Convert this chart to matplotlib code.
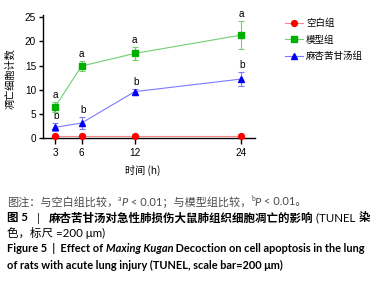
import matplotlib
matplotlib.use('Agg')
import matplotlib.pyplot as plt

# data
times = [3, 6, 12, 24]
blank_mean = [0.5, 0.5, 0.5, 0.5]
blank_err = [0.35, 0.35, 0.35, 0.35]
model_mean = [6.4, 14.9, 17.5, 21.3]
model_err = [1.0, 1.0, 1.35, 2.9]
drug_mean = [2.2, 3.1, 9.6, 12.2]
drug_err = [0.85, 1.15, 0.6, 1.4]
model_marks = ['a', 'a', 'a', 'a']
drug_marks = ['b', 'b', 'b', 'b']
group_names = ['空白组', '模型组', '麻杏苦甘汤组']
y_ticks = [0, 5, 10, 15, 20, 25]

CJK = ['Noto Sans CJK SC', 'DejaVu Sans']
LAT = ['Lato', 'Noto Sans CJK SC', 'DejaVu Sans']
ARIAL = ['Liberation Sans', 'Noto Sans CJK SC', 'DejaVu Sans']

plt.rcParams['font.family'] = ARIAL

fig = plt.figure(figsize=(3.84, 2.82), dpi=100)
W, H = 384, 282
ax = fig.add_axes([43 / W, 1 - 138 / H, (255 - 43) / W, (138 - 15.3) / H])

series = [
    (blank_mean, blank_err, 'o', '#ff0000', '#f08a8a', 4.2),
    (model_mean, model_err, 's', '#00b000', '#70d070', 4.2),
    (drug_mean, drug_err, '^', '#0000f0', '#7a7aff', 4.2),
]
handles = []
for i, (m, e, mk, mc, lc, ms) in enumerate(series):
    c = ax.errorbar(times, m, yerr=e, fmt='-', marker=mk, color=lc, mfc=mc, mec=mc,
                    ms=ms, lw=0.8, elinewidth=0.8, capsize=2.2, capthick=0.8,
                    zorder=3 + (2 - i), clip_on=False)
    handles.append(c[0])

for x, m, e, t in zip(times, model_mean, model_err, model_marks):
    ax.annotate(t, (x, m + e), xytext=(0, 1.5), textcoords='offset points',
                ha='center', va='bottom', fontsize=7.2)
for x, m, e, t in zip(times, drug_mean, drug_err, drug_marks):
    ax.annotate(t, (x, m + e), xytext=(0.8, 1.5), textcoords='offset points',
                ha='center', va='bottom', fontsize=7.2)

ax.set_xlim(1.645, 25.58)
ax.set_ylim(0, 25.4)
ax.set_xticks(times)
ax.set_yticks(y_ticks)
for s in ['top', 'right']:
    ax.spines[s].set_visible(False)
for s in ['left', 'bottom']:
    ax.spines[s].set_linewidth(1.0)
ax.tick_params(axis='both', labelsize=7.2, width=1.0, length=3, pad=2)
ax.tick_params(axis='x', length=4, pad=3)
ax.patch.set_alpha(0)

ax.set_xlabel('时间 (h)', fontsize=7.3, family=CJK)
ax.xaxis.set_label_coords((143 - 43) / (255 - 43), -(165 - 138) / (138 - 15.3))
ax.set_ylabel('凋亡细胞计数', fontsize=7.3, family=CJK)
ax.yaxis.set_label_coords(-(43 - 15) / (255 - 43), (138 - 79) / (138 - 15.3))

fig.legend(handles, group_names, loc='upper left', bbox_to_anchor=(285 / W, 1 - 19 / H),
           frameon=False, prop={'family': CJK, 'size': 6.8}, handlelength=1.9,
           handletextpad=0.3, labelspacing=0.72, borderpad=0, borderaxespad=0)

renderer = fig.canvas.get_renderer()


def draw_line(parts, x0, y, size, target=None):
    # parts: (text, style dict, scale, rise in px)
    def place(sz):
        objs, x = [], x0
        for txt, st, sc, rise in parts:
            t = fig.text(x / W, 1 - (y - rise * sz / 7) / H, txt, fontsize=sz * sc,
                         va='center_baseline', ha='left', **st)
            objs.append(t)
            x += t.get_window_extent(renderer).width
        return objs, x
    objs, xend = place(size)
    if target is not None:
        for t in objs:
            t.remove()
        size = size * (target - x0) / (xend - x0)
        objs, xend = place(size)
    return size


gray = dict(family=LAT, color='#4a4a4a')
gray_it = dict(family=LAT, color='#4a4a4a', style='italic')
line1 = [
    ('图注：与空白组比较，', gray, 1, 0),
    ('a', gray, 0.6, 2.5),
    ('P', gray_it, 1, 0),
    (' < 0.01；与模型组比较，', gray, 1, 0),
    ('b', gray, 0.6, 2.5),
    ('P', gray_it, 1, 0),
    (' < 0.01。', gray, 1, 0),
]
draw_line(line1, 7, 201, 7.0, target=305)

blk = dict(family=LAT, color='black')
blk_b = dict(family=LAT, color='black', weight='bold')
line2 = [
    ('图 5', blk_b, 1, 0),
    ('   |   ', blk, 1, 0),
    ('麻杏苦甘汤对急性肺损伤大鼠肺组织细胞凋亡的影响', blk_b, 1, 0),
    (' (TUNEL ', blk, 1, 0),
    ('染', blk_b, 1, 0),
]
s2 = draw_line(line2, 7, 217, 7.0, target=370)
draw_line([('色，标尺 =200 μm)', blk, 1, 0)], 7, 232, s2)

blk_bi = dict(family=LAT, color='black', weight='bold', style='italic')
line4 = [
    ('Figure 5  |  Effect of ', blk_b, 1, 0),
    ('Maxing Kugan', blk_bi, 1, 0),
    (' Decoction on cell apoptosis in the lung', blk_b, 1, 0),
]
s4 = draw_line(line4, 7, 248, 7.0, target=371)
draw_line([('of rats with acute lung injury (TUNEL, scale bar=200 μm)', blk_b, 1, 0)], 7, 264, s4)

fig.savefig('out.png', dpi=100)
